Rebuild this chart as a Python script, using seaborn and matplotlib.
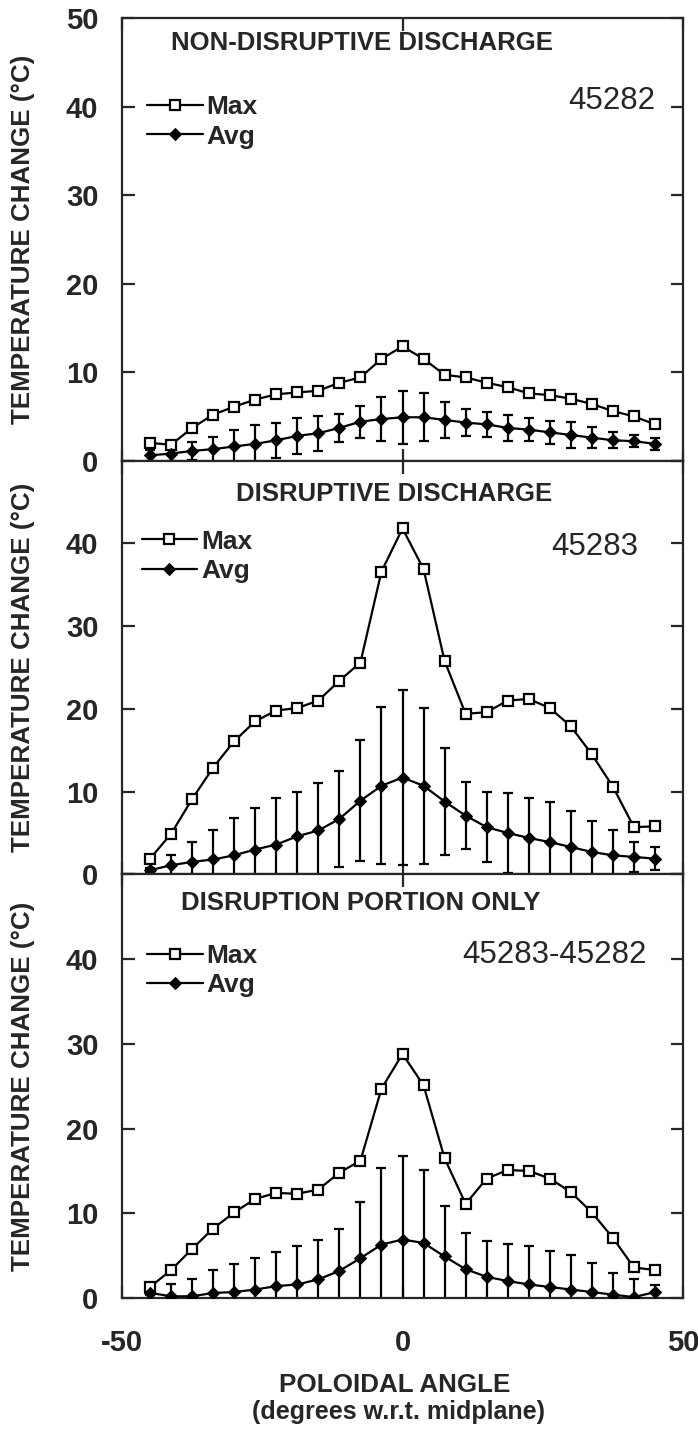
import numpy as np
import pandas as pd
import matplotlib
matplotlib.use("Agg")
import matplotlib.pyplot as plt
import seaborn as sns

# ---------------- data ----------------
angle = [-45.0, -41.25, -37.5, -33.75, -30.0, -26.25, -22.5, -18.75, -15.0, -11.25,
         -7.5, -3.75, 0.0, 3.75, 7.5, 11.25, 15.0, 18.75, 22.5, 26.25,
         30.0, 33.75, 37.5, 41.25, 45.0]

max_nd = [2.0, 1.8, 3.7, 5.2, 6.1, 6.9, 7.5, 7.7, 7.9, 8.8, 9.4, 11.5, 12.9,
          11.5, 9.7, 9.4, 8.8, 8.3, 7.6, 7.4, 7.0, 6.4, 5.6, 5.0, 4.1]
avg_nd = [0.6, 0.8, 1.1, 1.3, 1.6, 1.9, 2.3, 2.8, 3.1, 3.7, 4.4, 4.7, 4.9,
          4.9, 4.6, 4.3, 4.1, 3.7, 3.5, 3.2, 2.9, 2.6, 2.3, 2.2, 1.9]
err_nd = [0.6, 0.8, 1.0, 1.4, 1.9, 2.1, 2.0, 2.0, 2.0, 1.6, 1.8, 2.5, 3.0,
          2.7, 2.0, 1.5, 1.4, 1.5, 1.3, 1.3, 1.5, 1.2, 0.9, 0.7, 0.7]

max_d = [1.9, 4.9, 9.1, 12.9, 16.1, 18.5, 19.8, 20.1, 21.0, 23.4, 25.6, 36.6, 41.8,
         36.9, 25.8, 19.4, 19.6, 21.0, 21.2, 20.1, 17.9, 14.5, 10.6, 5.7, 5.8]
avg_d = [0.5, 1.1, 1.5, 1.8, 2.3, 3.0, 3.6, 4.6, 5.3, 6.7, 8.9, 10.7, 11.7,
         10.7, 8.8, 7.1, 5.7, 5.0, 4.4, 3.9, 3.3, 2.7, 2.3, 2.1, 1.9]
err_d = [0.3, 1.2, 2.4, 3.6, 4.5, 5.0, 5.6, 5.4, 5.7, 5.8, 7.3, 9.5, 10.6,
         9.4, 6.5, 4.0, 4.2, 4.8, 4.8, 4.8, 4.4, 3.8, 3.0, 1.8, 1.4]

max_diff = [1.3, 3.3, 5.8, 8.2, 10.1, 11.7, 12.4, 12.3, 12.8, 14.8, 16.2, 24.7, 28.8,
            25.1, 16.5, 11.1, 14.1, 15.1, 15.0, 14.1, 12.5, 10.1, 7.1, 3.6, 3.3]
avg_diff = [0.6, 0.2, 0.2, 0.6, 0.7, 1.0, 1.4, 1.6, 2.2, 3.2, 4.7, 6.3, 6.9,
            6.5, 4.9, 3.4, 2.5, 2.0, 1.6, 1.3, 1.0, 0.7, 0.4, 0.1, 0.7]
err_diff = [0.3, 1.4, 2.1, 2.7, 3.3, 3.7, 4.0, 4.5, 4.7, 5.0, 6.6, 9.1, 9.9,
            8.6, 6.0, 4.3, 4.2, 4.4, 4.5, 4.3, 4.1, 3.4, 2.5, 2.1, 0.8]

titles = ["NON-DISRUPTIVE DISCHARGE", "DISRUPTIVE DISCHARGE", "DISRUPTION PORTION ONLY"]
shots = ["45282", "45283", "45283-45282"]
ylabel = "TEMPERATURE CHANGE (°C)"
xlabel1 = "POLOIDAL ANGLE"
xlabel2 = "(degrees w.r.t. midplane)"
xticks = [-50, 0, 50]
yticks = [0, 10, 20, 30, 40, 50]

# ---------------- style ----------------
sns.set_style("ticks")
plt.rcParams["font.family"] = ["Liberation Sans", "DejaVu Sans"]
plt.rcParams["axes.unicode_minus"] = False

fig = plt.figure(figsize=(6.98, 14.43), dpi=100)
gs = fig.add_gridspec(3, 1, height_ratios=[443, 414, 424], hspace=0,
                      left=0.1748, right=0.9785, top=1 - 18 / 1443, bottom=1 - 1298 / 1443)

panels = [
    (max_nd, avg_nd, err_nd),
    (max_d, avg_d, err_d),
    (max_diff, avg_diff, err_diff),
]
title_pos = [(-7.2, 47.2), (-1.5, 46.0), (-7.4, 46.6)]
shot_pos = [(45.0, 40.6), (42.0, 39.6), (43.5, 40.5)]
leg_pos = [(0.045, 0.765), (0.035, 0.769), (0.045, 0.773)]

axes = []
for i, (mx, av, er) in enumerate(panels):
    ax = fig.add_subplot(gs[i])
    axes.append(ax)
    df = pd.DataFrame({"angle": angle, "Max": mx, "Avg": av, "err": er})
    ax.errorbar(df["angle"], df["Avg"], yerr=df["err"], fmt="none", ecolor="black",
                elinewidth=1.6, capsize=3.5, capthick=1.6, zorder=2)
    sns.lineplot(data=df, x="angle", y="Max", ax=ax, color="black", linewidth=1.6,
                 marker="s", markersize=7.5, markerfacecolor="white",
                 markeredgecolor="black", markeredgewidth=1.6, label="Max", zorder=3)
    sns.lineplot(data=df, x="angle", y="Avg", ax=ax, color="black", linewidth=1.6,
                 marker="D", markersize=6, markerfacecolor="black",
                 markeredgecolor="black", label="Avg", zorder=3)

    ax.set_xlim(-50, 50)
    ax.set_ylim(0, 50)
    ax.set_xticks(xticks)
    ax.set_yticks(yticks)
    for s in ax.spines.values():
        s.set_linewidth(1.6)
        s.set_visible(True)
    ax.tick_params(axis="y", which="both", direction="in", length=9, width=1.6,
                   left=True, right=True, labelsize=21, pad=17)
    ax.tick_params(axis="x", which="both", direction="in", length=9, width=1.6,
                   top=True, bottom=True, labelsize=21, pad=22)
    for lab in ax.get_yticklabels() + ax.get_xticklabels():
        lab.set_fontweight("bold")
    if i > 0:
        ax.set_yticklabels(["0", "10", "20", "30", "40", ""])
    if i < 2:
        ax.tick_params(axis="x", labelbottom=False)

    ax.set_xlabel("")
    ax.set_ylabel(ylabel, fontsize=18.7, fontweight="bold")
    ax.yaxis.set_label_coords(-0.155, 0.5)

    ax.text(title_pos[i][0], title_pos[i][1], titles[i], ha="center", va="center",
            fontsize=18.5, fontweight="bold")
    ax.text(shot_pos[i][0], shot_pos[i][1], shots[i], ha="right", va="center",
            fontsize=22.5)

    leg = ax.legend(loc="center left", bbox_to_anchor=leg_pos[i], frameon=False,
                    fontsize=19, handlelength=2.1, handletextpad=0.15,
                    labelspacing=0.2, borderpad=0, borderaxespad=0)
    for t in leg.get_texts():
        t.set_fontweight("bold")

fig.text(395 / 698, 1 - 1385 / 1443, xlabel1, ha="center", va="center",
         fontsize=18.7, fontweight="bold")
fig.text(398 / 698, 1 - 1412 / 1443, xlabel2, ha="center", va="center",
         fontsize=18, fontweight="bold")

fig.savefig("out.png", dpi=100)
